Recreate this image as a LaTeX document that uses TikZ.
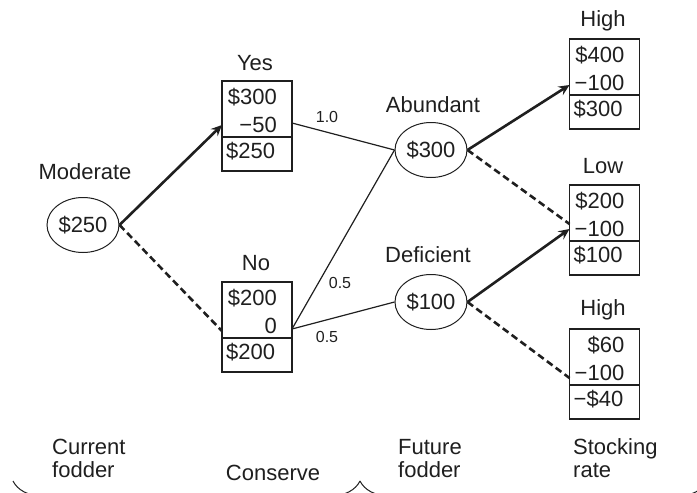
\documentclass[tikz,border=0pt]{standalone}
\usepackage{fontspec}
\setmainfont{Liberation Sans}
\usetikzlibrary{arrows.meta,shapes.geometric,decorations.pathreplacing}

\definecolor{ink}{gray}{0.12}

\tikzset{
  txt/.style={font=\fontsize{22}{23}\selectfont, inner sep=0pt, text=ink},
  prob/.style={font=\fontsize{16}{18}\selectfont, inner sep=0pt, text=ink},
  chance/.style={ellipse, draw=ink, line width=1pt, minimum width=72pt,
    minimum height=55pt, inner sep=0pt, font=\fontsize{22}{23}\selectfont, text=ink},
  payoff/.style={rectangle, draw=ink, line width=1.3pt, minimum width=70pt,
    inner sep=0pt, outer sep=0pt},
  chosen/.style={draw=ink, line width=2.6pt,
    -{Stealth[length=11pt,width=10pt,inset=4pt]}},
  rejected/.style={draw=ink, line width=2.6pt, dash pattern=on 7pt off 4pt},
  branch/.style={draw=ink, line width=1.2pt},
  bracket/.style={draw=ink, line width=1pt,
    decorate, decoration={brace, mirror, amplitude=30pt}}
}

% payoff box: name, x, y of top-left corner, first line, second line, total
\newcommand\payoffbox[6]{%
  \node[payoff, minimum height=56pt, anchor=north west] (#1t) at (#2,#3) {};
  \node[payoff, minimum height=34pt, anchor=north west] (#1b) at (#1t.south west) {};
  \node[txt, anchor=east] (#1x) at ([xshift=-15pt,yshift=-16pt]#1t.north east) {#4};
  \node[txt, anchor=east] (#1y) at ([xshift=-15pt,yshift=-44pt]#1t.north east) {#5};
  \node[txt, anchor=west] (#1z) at ([xshift=4pt,yshift=-14pt]#1b.north west) {#6};
}

\begin{document}
\begin{tikzpicture}[x=1pt,y=-1pt]
\useasboundingbox (0,0) rectangle (697,493);

% decision and chance nodes
\node[chance] (mod) at (83,225) {\$250};
\node[txt] (modl) at (85,172) {Moderate};

\payoffbox{yes}{222}{81}{\$300}{−50}{\$250}
\node[txt] (yesl) at (255,63) {Yes};

\payoffbox{no}{222}{282}{\$200}{0}{\$200}
\node[txt] (nol) at (256,263) {No};

\node[chance] (ab) at (431,150) {\$300};
\node[txt] (abl) at (433,105) {Abundant};

\node[chance] (def) at (431,302) {\$100};
\node[txt] (defl) at (428,255) {Deficient};

\payoffbox{hia}{569.5}{39}{\$400}{−100}{\$300}
\node[txt] (hial) at (603,21) {High};

\payoffbox{low}{569.5}{185}{\$200}{−100}{\$100}
\node[txt] (lowl) at (603,166) {Low};

\payoffbox{hib}{569.5}{329}{\$60}{−100}{−\$40}
\node[txt] (hibl) at (603,310) {High};

% branches
\draw[chosen] (mod.east) -- ([yshift=12pt]yest.south west);
\draw[rejected] (mod.east) -- ([yshift=7pt]not.south west);

\draw[branch] ([yshift=14pt]yest.south east) -- (ab.west);
\draw[branch] ([yshift=9pt]not.south east) -- (ab.west);
\draw[branch] ([yshift=9pt]not.south east) -- (def.west);

\draw[chosen] (ab.east) -- ([yshift=10pt]hiat.south west);
\draw[rejected] (ab.east) -- ([yshift=17pt]lowt.south west);
\draw[chosen] (def.east) -- ([yshift=12pt]lowt.south west);
\draw[rejected] (def.east) -- ([yshift=7pt]hibt.south west);

% probabilities
\node[prob] (p1) at (327,117) {1.0};
\node[prob] (p2) at (340,283) {0.5};
\node[prob] (p3) at (327,337) {0.5};

% stage captions
\node[txt, align=left, anchor=north west] (s1) at (52,439) {Current\\fodder};
\node[txt] (s2) at (273,473) {Conserve};
\node[txt, align=left, anchor=north west] (s3) at (398,439) {Future\\fodder};
\node[txt, align=left, anchor=north west] (s4) at (573,438) {Stocking\\rate};

% stage brackets, running below the lower edge
\begin{scope}
  \clip (0,0) rectangle (697,493);
  \coordinate (b0) at (13,481);
  \coordinate (b1) at (360,481);
  \coordinate (b2) at (707,481);
  \draw[bracket] (b0) -- (b1);
  \draw[bracket] (b1) -- (b2);
\end{scope}
\end{tikzpicture}
\end{document}
